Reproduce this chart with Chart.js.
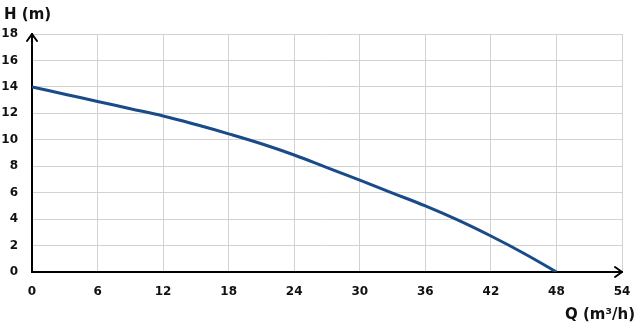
<!DOCTYPE html>
<html lang="en">
<head>
  <meta charset="UTF-8">
  <title>Pump curve H-Q</title>
  <script src="https://cdn.jsdelivr.net/npm/chart.js"></script>
  <style>
    html, body {
      margin: 0;
      padding: 0;
      background: #fff;
    }
    #wrap {
      width: 640px;
      height: 332px;
    }
  </style>
</head>
<body>
  <div id="wrap"><canvas id="pumpChart" width="640" height="332"></canvas></div>

  <script>
    // flow Q (m3/h) and head H (m)
    const flowQ = [0, 3, 6, 9, 12, 15, 18, 21, 24, 27, 30, 33, 36, 39, 42, 45, 48];
    const headH = [14, 13.45, 12.9, 12.35, 11.8, 11.15, 10.45, 9.7, 8.85, 7.9, 6.95, 5.97, 5.0, 3.92, 2.72, 1.42, 0];

    const xTitle = 'Q (m³/h)';
    const yTitle = 'H (m)';

    const tickFont = { family: 'DejaVu Sans', size: 12, weight: 'bold' };

    // axis arrows + axis titles
    const axisDecor = {
      id: 'axisDecor',
      afterDraw(chart) {
        const { ctx, chartArea } = chart;
        const { left, right, top, bottom } = chartArea;
        ctx.save();
        ctx.strokeStyle = '#000';
        ctx.lineWidth = 2;
        ctx.lineCap = 'round';
        ctx.lineJoin = 'round';
        ctx.beginPath();
        ctx.moveTo(left - 5, top + 7);
        ctx.lineTo(left, top);
        ctx.lineTo(left + 5, top + 7);
        ctx.stroke();
        ctx.beginPath();
        ctx.moveTo(right - 7, bottom - 5);
        ctx.lineTo(right, bottom);
        ctx.lineTo(right - 7, bottom + 5);
        ctx.stroke();

        ctx.fillStyle = '#111';
        ctx.font = 'bold 15px "DejaVu Sans"';
        ctx.textBaseline = 'middle';
        ctx.textAlign = 'left';
        ctx.fillText(yTitle, 4, 15);
        ctx.textAlign = 'right';
        ctx.fillText(xTitle, 635, 315);
        ctx.restore();
      }
    };

    const ctx = document.getElementById('pumpChart').getContext('2d');
    new Chart(ctx, {
      type: 'line',
      data: {
        datasets: [{
          data: flowQ.map((q, i) => ({ x: q, y: headH[i] })),
          borderColor: '#184b87',
          borderWidth: 3,
          pointRadius: 0,
          tension: 0.4,
          fill: false
        }]
      },
      options: {
        responsive: false,
        animation: false,
        layout: { padding: { top: 34, right: 18, left: 0, bottom: 0 } },
        plugins: {
          legend: { display: false },
          tooltip: { enabled: false }
        },
        scales: {
          x: {
            type: 'linear',
            min: 0,
            max: 54,
            ticks: { stepSize: 6, color: '#111', font: tickFont, padding: 13, maxRotation: 0 },
            grid: { color: '#d2d2d2', lineWidth: 1, drawTicks: false },
            border: { color: '#000', width: 2 },
            afterFit(scale) {
              scale.height = 60;
              scale.paddingRight = 0;
              scale.paddingLeft = 0;
            }
          },
          y: {
            min: 0,
            max: 18,
            ticks: { stepSize: 2, color: '#111', font: tickFont, padding: 14 },
            grid: { color: '#d2d2d2', lineWidth: 1, drawTicks: false },
            border: { color: '#000', width: 2 },
            afterFit(scale) {
              scale.width = 32;
              scale.paddingTop = 0;
              scale.paddingBottom = 0;
            }
          }
        }
      },
      plugins: [axisDecor]
    });
  </script>
</body>
</html>
